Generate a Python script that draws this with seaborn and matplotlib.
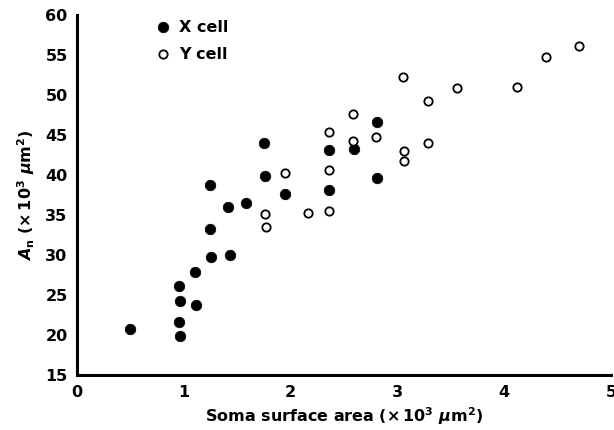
import matplotlib
matplotlib.use("Agg")
import matplotlib.pyplot as plt
import seaborn as sns
import pandas as pd

# X cells (filled)
x_cell_area = [1.75, 1.76, 1.95, 1.24, 1.41, 1.58, 1.24, 1.25, 1.43, 1.10,
               0.95, 0.96, 1.11, 0.95, 0.49, 0.96, 2.81, 2.59, 2.36, 2.81, 2.36]
x_cell_an = [44.0, 39.9, 37.6, 38.8, 36.0, 36.5, 33.2, 29.8, 30.0, 27.9,
             26.1, 24.2, 23.7, 21.6, 20.7, 19.9, 46.6, 43.3, 43.1, 39.6, 38.1]
# Y cells (open)
y_cell_area = [1.95, 1.76, 1.77, 2.16, 2.36, 2.36, 2.36, 2.58, 2.58, 2.80,
               3.06, 3.06, 3.05, 3.29, 3.29, 3.56, 4.12, 4.39, 4.70]
y_cell_an = [40.2, 35.1, 33.5, 35.2, 35.5, 40.6, 45.4, 44.2, 47.6, 44.7,
             43.0, 41.8, 52.2, 49.3, 44.0, 50.9, 51.0, 54.7, 56.1]

x_ticks = [0, 1, 2, 3, 4, 5]
y_ticks = [15, 20, 25, 30, 35, 40, 45, 50, 55, 60]
labels = ["X cell", "Y cell"]

sns.set_style("white")
plt.rcParams["font.family"] = ["DejaVu Sans"]
plt.rcParams["font.weight"] = "bold"
plt.rcParams["text.color"] = "black"
plt.rcParams["axes.labelcolor"] = "black"
plt.rcParams["mathtext.fontset"] = "custom"
plt.rcParams["mathtext.rm"] = "DejaVu Sans:bold"
plt.rcParams["mathtext.it"] = "DejaVu Sans:italic:bold"
plt.rcParams["mathtext.bf"] = "DejaVu Sans:bold"

fig = plt.figure(figsize=(6.14, 4.30), dpi=100)
ax = fig.add_axes([77.3 / 614, 55 / 430, (611 - 77.3) / 614, 360 / 430])

dfx = pd.DataFrame({"area": x_cell_area, "an": x_cell_an})
dfy = pd.DataFrame({"area": y_cell_area, "an": y_cell_an})

sns.scatterplot(data=dfx, x="area", y="an", ax=ax, s=58, color="black",
                edgecolor="black", linewidth=0.5, label=labels[0], zorder=3)
sns.scatterplot(data=dfy, x="area", y="an", ax=ax, s=36, facecolor="white",
                edgecolor="black", linewidth=1.3, label=labels[1], zorder=3)

ax.set_xlim(0, 5)
ax.set_ylim(15, 60)
ax.set_xticks(x_ticks)
ax.set_yticks(y_ticks)
ax.set_xticklabels([str(t) for t in x_ticks])
ax.set_yticklabels([str(t) for t in y_ticks])

for side in ["top", "right"]:
    ax.spines[side].set_visible(False)
for side in ["left", "bottom"]:
    ax.spines[side].set_linewidth(2.2)
    ax.spines[side].set_color("black")

ax.tick_params(axis="x", direction="in", length=5, width=2, pad=7,
               labelsize=11.5, colors="black")
ax.tick_params(axis="y", direction="in", length=5, width=2, pad=7,
               labelsize=11.5, colors="black")
for lab in ax.get_xticklabels() + ax.get_yticklabels():
    lab.set_fontweight("bold")

ax.set_xlabel(r"Soma surface area ($\times\,10^3\ \mathit{\mu}\mathrm{m}^2$)",
              fontsize=11.5, fontweight="bold", labelpad=4, color="black")
ax.set_ylabel(r"$\mathit{A}_\mathrm{n}$ ($\times\,10^3\ \mathit{\mu}\mathrm{m}^2$)",
              fontsize=11.5, fontweight="bold", labelpad=6, color="black")

leg = ax.legend(loc="upper left", bbox_to_anchor=(0.13, 1.005), frameon=False,
                handletextpad=0.45, labelspacing=0.75, fontsize=11.5,
                borderaxespad=0, handlelength=1.2)
for t in leg.get_texts():
    t.set_fontweight("bold")
    t.set_color("black")

fig.savefig("out.png", dpi=100)
